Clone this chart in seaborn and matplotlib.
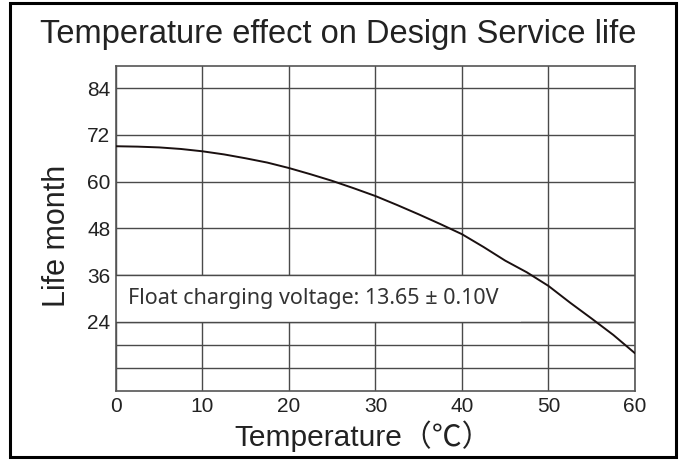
import matplotlib
matplotlib.use("Agg")
import matplotlib.pyplot as plt
import seaborn as sns
import pandas as pd
from matplotlib.patches import Rectangle

# values
temperature = [0, 2.5, 5, 7.5, 10, 12.5, 15, 17.5, 20, 22.5, 25, 27.5, 30,
               32.5, 35, 37.5, 40, 42.5, 45, 47.5, 50, 52.5, 55, 57.5, 60]
life_month = [69.1, 69.0, 68.8, 68.4, 67.8, 67.0, 66.0, 64.9, 63.5, 61.9, 60.2, 58.3, 56.3,
              54.0, 51.6, 49.1, 46.5, 43.2, 39.7, 36.7, 33.2, 28.9, 24.8, 20.6, 15.9]

y_ticks = [24, 36, 48, 60, 72, 84]
y_grid = [12, 18, 24, 36, 48, 60, 72, 84]
x_ticks = [0, 10, 20, 30, 40, 50, 60]

title = "Temperature effect on Design Service life"
x_label = "Temperature（℃）"
y_label = "Life month"
note = "Float charging voltage: 13.65 ± 0.10V"

sns.set_style("white")
plt.rcParams['font.family'] = ['Liberation Sans', 'Noto Sans CJK SC', 'DejaVu Sans']

df = pd.DataFrame({'temp': temperature, 'life': life_month})

fig = plt.figure(figsize=(6.85, 4.61), dpi=100)
ax = fig.add_axes([0.1693, 0.1518, 0.7577, 0.7057])

grid_col = '#4a4a4a'
for y in y_grid:
    ax.axhline(y, color=grid_col, lw=1.0, zorder=1)
for x in x_ticks:
    ax.axvline(x, color=grid_col, lw=1.0, zorder=1)

# white band behind the note
ax.axhspan(24, 36, xmin=0, xmax=0.78, facecolor='white', edgecolor='none', zorder=2)
for y in (24, 36):
    ax.axhline(y, color=grid_col, lw=1.0, zorder=3)

sns.lineplot(data=df, x='temp', y='life', color='#1a1010', lw=1.4, ax=ax, zorder=4)

ax.text(1.4, 30, note, fontsize=15.5, family=['Noto Sans', 'DejaVu Sans'],
        color='#333333', va='center', ha='left', zorder=5)

ax.set_xlim(0, 60)
ax.set_ylim(6.2, 89.8)
ax.set_xticks(x_ticks)
ax.set_yticks(y_ticks)
ax.tick_params(labelsize=15, colors='#222222', length=0, pad=4)
for s in ax.spines.values():
    s.set_color('#555555')
    s.set_linewidth(1.2)

ax.set_xlabel(x_label, fontsize=21.5, color='#222222')
ax.xaxis.set_label_coords(0.477, -0.09)
ax.set_ylabel(y_label, fontsize=22, color='#222222')
ax.yaxis.set_label_coords(-0.084, 0.478)
fig.text(0.494, 0.925, title, fontsize=23.5, color='#222222', ha='center', va='center')

fig.patches.append(Rectangle((0.015, 0.008), 0.972, 0.986, transform=fig.transFigure,
                             fill=False, edgecolor='black', lw=2.2))

fig.savefig('out.png', dpi=100)
